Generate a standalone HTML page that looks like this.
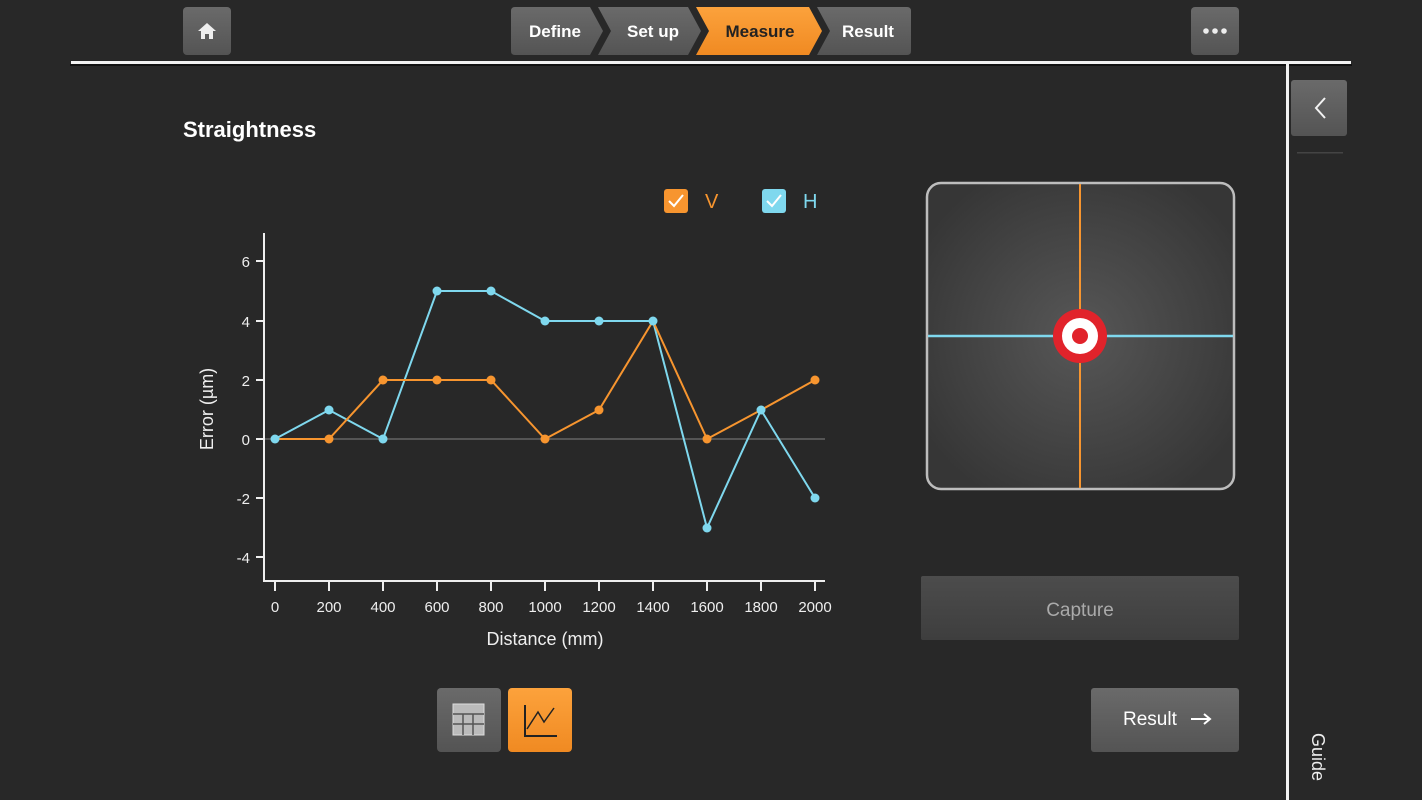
<!DOCTYPE html>
<html><head><meta charset="utf-8"><style>
html,body{margin:0;padding:0;background:#282828;}
body{width:1422px;height:800px;overflow:hidden;position:relative;font-family:"Liberation Sans",sans-serif;}
svg{position:absolute;left:0;top:0;}
</style></head><body>
<svg width="1422" height="800" viewBox="0 0 1422 800" xmlns="http://www.w3.org/2000/svg" font-family="Liberation Sans, sans-serif">
<defs>
<linearGradient id="btn" x1="0" y1="0" x2="0" y2="1"><stop offset="0" stop-color="#6a6a6a"/><stop offset="1" stop-color="#545454"/></linearGradient>
<linearGradient id="btn2" x1="0" y1="0" x2="0" y2="1"><stop offset="0" stop-color="#4c4c4c"/><stop offset="1" stop-color="#3e3e3e"/></linearGradient>
<linearGradient id="org" x1="0" y1="0" x2="0" y2="1"><stop offset="0" stop-color="#fca23c"/><stop offset="1" stop-color="#f08a22"/></linearGradient>
<radialGradient id="pad" cx="0.5" cy="0.5" r="0.6"><stop offset="0" stop-color="#575757"/><stop offset="1" stop-color="#363636"/></radialGradient>
</defs>
<rect width="1422" height="800" fill="#282828"/>
<!-- header -->
<rect x="183" y="7" width="48" height="48" rx="4" fill="url(#btn)"/>
<path d="M207 23 L216 31 L213 31 L213 39 L209 39 L209 34 L205 34 L205 39 L201 39 L201 31 L198 31 Z" fill="#eee"/>
<rect x="1191" y="7" width="48" height="48" rx="4" fill="url(#btn)"/>
<circle cx="1206" cy="31" r="2.8" fill="#eee"/><circle cx="1215" cy="31" r="2.8" fill="#eee"/><circle cx="1224" cy="31" r="2.8" fill="#eee"/>
<!-- steps -->
<path d="M515 7 L590 7 L603 31 L590 55 L515 55 Q511 55 511 51 L511 11 Q511 7 515 7 Z" fill="url(#btn)"/>
<path d="M598 7 L688 7 L701 31 L688 55 L598 55 L611 31 Z" fill="url(#btn)"/>
<path d="M696 7 L809 7 L822 31 L809 55 L696 55 L709 31 Z" fill="url(#org)"/>
<path d="M817 7 L907 7 Q911 7 911 11 L911 51 Q911 55 907 55 L817 55 L830 31 Z" fill="url(#btn)"/>
<g font-size="17" font-weight="bold" text-anchor="middle">
<text x="555" y="37" fill="#fff">Define</text>
<text x="653" y="37" fill="#fff">Set up</text>
<text x="760" y="37" fill="#222">Measure</text>
<text x="868" y="37" fill="#fff">Result</text>
</g>
<rect x="71" y="61" width="1280" height="3" fill="#f2f2f2"/>
<rect x="70" y="64" width="1282" height="2" fill="#111"/>
<rect x="1286" y="64" width="3" height="736" fill="#f2f2f2"/>
<!-- sidebar -->
<rect x="1291" y="80" width="56" height="56" rx="3" fill="url(#btn)"/>
<path d="M1325 98 L1316 108 L1325 118" stroke="#f2f2f2" stroke-width="2" fill="none"/>
<rect x="1297" y="152" width="46" height="1.5" fill="#444"/>
<text transform="translate(1312,733) rotate(90)" font-size="18" fill="#eee">Guide</text>
<!-- title -->
<text x="183" y="137" font-size="22" fill="#fff" font-weight="bold">Straightness</text>
<!-- legend -->
<rect x="664" y="189" width="24" height="24" rx="3" fill="#f7952f"/>
<path d="M669 201 L674 206 L683 195" stroke="#fff" stroke-width="2" fill="none"/>
<text x="705" y="208" font-size="20" fill="#f7952f">V</text>
<rect x="762" y="189" width="24" height="24" rx="3" fill="#7fd8ee"/>
<path d="M767 201 L772 206 L781 195" stroke="#fff" stroke-width="2" fill="none"/>
<text x="803" y="208" font-size="20" fill="#7fd8ee">H</text>
<!-- chart axes -->
<line x1="264" y1="439" x2="825" y2="439" stroke="#555" stroke-width="2"/>
<line x1="264" y1="233" x2="264" y2="582" stroke="#eee" stroke-width="2"/>
<line x1="264" y1="581" x2="825" y2="581" stroke="#eee" stroke-width="2"/>
<g stroke="#eee" stroke-width="2">
<line x1="256" y1="261" x2="264" y2="261"/><line x1="256" y1="321" x2="264" y2="321"/><line x1="256" y1="380" x2="264" y2="380"/><line x1="256" y1="439" x2="264" y2="439"/><line x1="256" y1="498" x2="264" y2="498"/><line x1="256" y1="557" x2="264" y2="557"/>
<line x1="275" y1="581" x2="275" y2="591"/><line x1="329" y1="581" x2="329" y2="591"/><line x1="383" y1="581" x2="383" y2="591"/><line x1="437" y1="581" x2="437" y2="591"/><line x1="491" y1="581" x2="491" y2="591"/><line x1="545" y1="581" x2="545" y2="591"/><line x1="599" y1="581" x2="599" y2="591"/><line x1="653" y1="581" x2="653" y2="591"/><line x1="707" y1="581" x2="707" y2="591"/><line x1="761" y1="581" x2="761" y2="591"/><line x1="815" y1="581" x2="815" y2="591"/>
</g>
<g font-size="15" fill="#eee" text-anchor="end">
<text x="250" y="267">6</text><text x="250" y="327">4</text><text x="250" y="386">2</text><text x="250" y="445">0</text><text x="250" y="504">-2</text><text x="250" y="563">-4</text>
</g>
<g font-size="15" fill="#eee" text-anchor="middle">
<text x="275" y="612">0</text><text x="329" y="612">200</text><text x="383" y="612">400</text><text x="437" y="612">600</text><text x="491" y="612">800</text><text x="545" y="612">1000</text><text x="599" y="612">1200</text><text x="653" y="612">1400</text><text x="707" y="612">1600</text><text x="761" y="612">1800</text><text x="815" y="612">2000</text>
</g>
<text x="545" y="645" font-size="18" fill="#eee" text-anchor="middle">Distance (mm)</text>
<text transform="translate(213,409) rotate(-90)" font-size="18" fill="#eee" text-anchor="middle">Error (µm)</text>
<!-- series -->
<polyline fill="none" stroke="#7fd8ee" stroke-width="2" points="275,439 329,410 383,439 437,291 491,291 545,321 599,321 653,321 707,528 761,410 815,498"/>
<polyline fill="none" stroke="#f7952f" stroke-width="2" points="275,439 329,439 383,380 437,380 491,380 545,439 599,410 653,321 707,439 761,410 815,380"/>
<g fill="#f7952f">
<circle cx="329" cy="439" r="4.5"/><circle cx="383" cy="380" r="4.5"/><circle cx="437" cy="380" r="4.5"/><circle cx="491" cy="380" r="4.5"/><circle cx="545" cy="439" r="4.5"/><circle cx="599" cy="410" r="4.5"/><circle cx="707" cy="439" r="4.5"/><circle cx="815" cy="380" r="4.5"/>
</g>
<g fill="#7fd8ee">
<circle cx="275" cy="439" r="4.5"/><circle cx="329" cy="410" r="4.5"/><circle cx="383" cy="439" r="4.5"/><circle cx="437" cy="291" r="4.5"/><circle cx="491" cy="291" r="4.5"/><circle cx="545" cy="321" r="4.5"/><circle cx="599" cy="321" r="4.5"/><circle cx="653" cy="321" r="4.5"/><circle cx="707" cy="528" r="4.5"/><circle cx="761" cy="410" r="4.5"/><circle cx="815" cy="498" r="4.5"/>
</g>
<!-- target pad -->
<rect x="927" y="183" width="307" height="306" rx="14" fill="url(#pad)" stroke="#bdbdbd" stroke-width="2.5"/>
<line x1="1080" y1="184" x2="1080" y2="488" stroke="#f7952f" stroke-width="2"/>
<line x1="928" y1="336" x2="1233" y2="336" stroke="#7fd8ee" stroke-width="2.5"/>
<circle cx="1080" cy="336" r="27" fill="#e1232b"/>
<circle cx="1080" cy="336" r="18" fill="#fff"/>
<circle cx="1080" cy="336" r="8" fill="#e1232b"/>
<!-- buttons -->
<rect x="921" y="576" width="318" height="64" rx="2" fill="url(#btn2)"/>
<text x="1080" y="616" font-size="19" fill="#aaa" text-anchor="middle">Capture</text>
<rect x="1091" y="688" width="148" height="64" rx="3" fill="url(#btn)"/>
<text x="1123" y="725" font-size="19" fill="#fff">Result</text>
<path d="M1191 719 L1210 719 M1204 714 L1210 719 L1204 724" stroke="#fff" stroke-width="2" fill="none"/>
<rect x="508" y="688" width="64" height="64" rx="4" fill="url(#org)"/>
<rect x="437" y="688" width="64" height="64" rx="4" fill="url(#btn)"/>
<rect x="453" y="704" width="31" height="31" fill="#bbb" stroke="#ddd" stroke-width="1"/>
<g stroke="#555" stroke-width="1.5"><line x1="453" y1="714" x2="484" y2="714"/><line x1="453" y1="724" x2="484" y2="724"/><line x1="463" y1="714" x2="463" y2="735"/><line x1="473" y1="714" x2="473" y2="735"/></g>
<path d="M525 705 L525 736 L557 736" stroke="#222" stroke-width="2" fill="none"/>
<path d="M527 729 L538 712 L544 722 L554 708" stroke="#222" stroke-width="1.5" fill="none"/>
</svg>
</body></html>
